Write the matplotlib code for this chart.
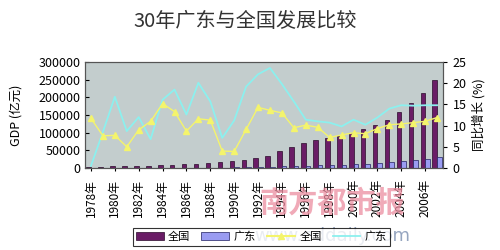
import numpy as np
import matplotlib
matplotlib.use('Agg')
import matplotlib.pyplot as plt
from matplotlib.lines import Line2D
from matplotlib.patches import Patch

plt.rcParams['font.family'] = ['Noto Sans CJK SC', 'DejaVu Sans']

# data
years = list(range(1978, 2008))
gdp_cn = [3645, 4063, 4546, 4892, 5323, 5963, 7208, 9016, 10275, 12059,
          15043, 16992, 18668, 21782, 26924, 35334, 48198, 60794, 71177, 78973,
          84402, 89677, 99215, 109655, 120333, 135823, 159878, 183868, 210871, 249530]
gdp_gd = [186, 209, 250, 290, 340, 368, 458, 577, 668, 847,
          1155, 1381, 1559, 1893, 2448, 3469, 4619, 5933, 6834, 7775,
          8531, 9251, 10741, 12039, 13502, 15845, 18865, 22367, 26204, 31084]
grow_cn = [11.7, 7.6, 7.7, 5.0, 9.0, 11.0, 15.2, 13.3, 8.7, 11.6,
           11.3, 4.0, 3.9, 9.1, 14.3, 13.6, 13.0, 9.5, 10.1, 9.6,
           7.2, 7.8, 8.3, 8.1, 9.3, 10.2, 10.4, 10.7, 11.0, 11.9]
grow_gd = [0.5, 8.5, 16.8, 8.7, 12.0, 6.8, 16.1, 18.5, 12.6, 20.1,
           15.7, 7.1, 11.2, 19.2, 22.1, 23.6, 19.8, 15.7, 11.4, 11.0,
           10.7, 9.8, 11.4, 10.2, 11.9, 14.0, 14.8, 14.7, 14.8, 14.8]
tick_years = years[::2][:15]

fig = plt.figure(figsize=(5, 2.5), dpi=100)
ax = fig.add_axes([0.17, 0.328, 0.716, 0.424])
ax.set_facecolor('#c3cdcd')

x = np.arange(len(years))
w = 0.38
ax.bar(x - w/2, gdp_cn, w, color='#6a1c66', edgecolor='#2a0a2a', linewidth=0.5, zorder=2)
ax.bar(x + w/2, gdp_gd, w, color='#9a9cf2', edgecolor='#202060', linewidth=0.5, zorder=2)
ax.set_xlim(-0.5, len(years) - 0.5)
ax.set_ylim(0, 300000)
ax.set_yticks(range(0, 300001, 50000))
ax.tick_params(axis='y', direction='in', length=3, labelsize=9, pad=3)
ax.set_xticks([years.index(y) for y in tick_years])
ax.set_xticklabels([f'{y}年' for y in tick_years], rotation=90, fontsize=8.5)
ax.tick_params(axis='x', length=2, pad=6)
ax.set_ylabel('GDP (亿元)', fontsize=9, labelpad=12)

ax2 = ax.twinx()
ax2.plot(x, grow_gd, color='#8cf0ee', linewidth=1.3, zorder=3)
ax2.plot(x, grow_cn, color='#f4f46c', linewidth=1, marker='^', markersize=4, zorder=4)
ax2.set_ylim(0, 25)
ax2.set_yticks(range(0, 26, 5))
ax2.tick_params(axis='y', direction='out', length=3, labelsize=9, pad=4)
ax2.set_ylabel('同比增长 (%)', fontsize=9, labelpad=4)

for a in (ax, ax2):
    for s in a.spines.values():
        s.set_color('#555555')
        s.set_linewidth(0.8)

fig.text(0.49, 0.915, '30年广东与全国发展比较', ha='center', va='center', fontsize=14.5, color='#333333')

handles = [Patch(facecolor='#6a1c66', edgecolor='#2a0a2a', linewidth=0.5),
           Patch(facecolor='#9a9cf2', edgecolor='#202060', linewidth=0.5),
           Line2D([], [], color='#f4f46c', marker='^', markersize=4),
           Line2D([], [], color='#8cf0ee', linewidth=1.3)]
leg = fig.legend(handles, ['全国', '广东', '全国', '广东'], ncol=4, loc='center',
                 bbox_to_anchor=(0.523, 0.052), fontsize=8, frameon=True, fancybox=False,
                 handlelength=2.5, handletextpad=0.4, columnspacing=1.0, borderpad=0.3)
leg.get_frame().set_edgecolor('black')
leg.get_frame().set_linewidth(0.8)

# newspaper watermark
fig.text(0.665, 0.19, '南方都市报', ha='center', va='center', fontsize=21,
         fontweight='bold', color='#ec8ea0', alpha=0.75)
fig.text(0.665, 0.055, 'www.nddaily.com', ha='center', va='center', fontsize=13,
         color='#7b8fb0', alpha=0.8, family=['DejaVu Sans'])

fig.savefig('out.png', dpi=100)
